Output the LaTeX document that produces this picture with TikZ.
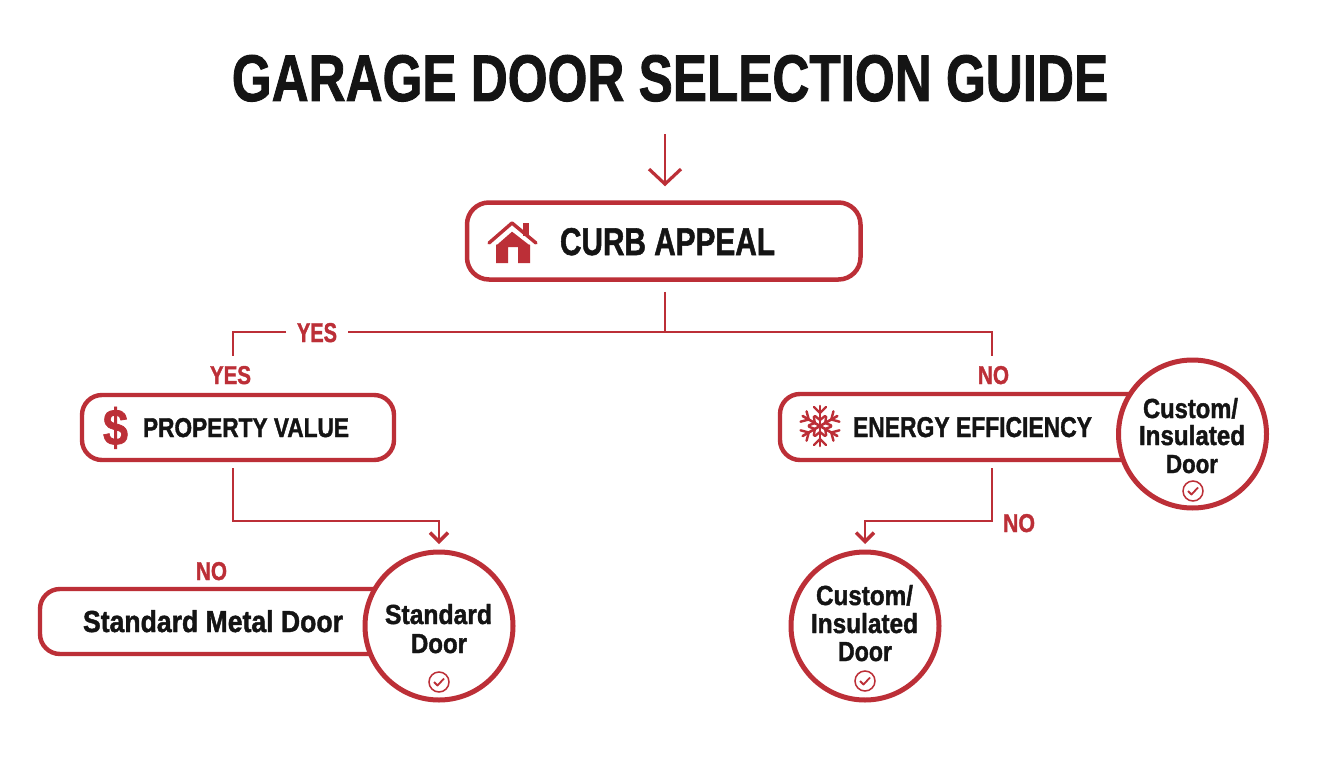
\documentclass[tikz,border=0pt]{standalone}
\usepackage{graphicx}
\usepackage{fontspec}
\setmainfont[BoldFeatures={FakeBold=1.5}]{Liberation Sans}
\usetikzlibrary{arrows.meta}
\definecolor{brandred}{HTML}{BC2F37}
\definecolor{inkdark}{HTML}{141414}
\tikzset{
  pill/.style={draw=brandred,line width=4.4pt,fill=white,rounded corners=20pt,inner sep=0pt},
  disc/.style={circle,draw=brandred,line width=5pt,fill=white,minimum size=148pt,inner sep=0pt},
  wire/.style={draw=brandred,line width=2.8pt,line cap=butt},
  barb/.style={-{Straight Barb[length=9pt,width=18pt,line width=3.4pt]}},
  bigbarb/.style={-{Straight Barb[length=15pt,width=32pt,line width=3.2pt]}},
  lab/.style={anchor=base,inner sep=0pt,font=\bfseries},
  ink/.style={lab,text=inkdark},
  redlab/.style={lab,text=brandred},
  tick/.style={draw=brandred,line width=1.5pt}
}
\newcommand{\fitbox}[3]{\resizebox{#1pt}{#2pt}{#3}}
\newcommand{\checkmarkicon}[2]{%
  \draw[tick] (#1,#2) circle (10);
  \draw[tick,line width=1.8pt,line join=round] (#1-5,#2) -- (#1-1.5,#2+3.5) -- (#1+5,#2-3.5);
}
\begin{document}
\begin{tikzpicture}[x=1pt,y=-1pt]
\useasboundingbox[fill=white] (0,0) rectangle (1344,768);
% title
\node[ink] (title) at (670,101) {\fitbox{876}{46}{GARAGE DOOR SELECTION GUIDE}};
% boxes
\node[pill,rounded corners=22pt,line width=4.5pt,minimum width=393.5pt,minimum height=77pt] (curb) at (663.75,241) {};
\node[pill,minimum width=312pt,minimum height=65pt] (prop) at (238,427.5) {};
\node[pill,minimum width=390pt,minimum height=65pt] (metal) at (235,621.5) {};
\node[pill,minimum width=410pt,minimum height=66pt] (energy) at (985,427) {};
% circles
\node[disc] (stdcirc) at (439,626) {};
\node[disc] (custright) at (1192.5,434) {};
\node[disc] (custbot) at (865,626) {};
% box text
\node[ink] (curbt) at (667.5,255) {\fitbox{215}{27}{CURB APPEAL}};
\node[ink] (propt) at (246,437) {\fitbox{206}{19}{PROPERTY VALUE}};
\node[ink] (metalt) at (213,632) {\fitbox{260}{22}{Standard Metal Door}};
\node[ink] (energyt) at (972.5,437) {\fitbox{239}{20}{ENERGY EFFICIENCY}};
\node[ink] (s1) at (438.5,624) {\fitbox{107}{20}{Standard}};
\node[ink] (s2) at (439,653) {\fitbox{56}{19}{Door}};
\node[ink] (c1) at (1190.5,418) {\fitbox{95}{20}{Custom/}};
\node[ink] (c2) at (1192,445) {\fitbox{106}{20}{Insulated}};
\node[ink] (c3) at (1192,473) {\fitbox{52}{18}{Door}};
\node[ink] (b1) at (864.5,605) {\fitbox{97}{20}{Custom/}};
\node[ink] (b2) at (864.5,633) {\fitbox{107}{20}{Insulated}};
\node[ink] (b3) at (865,661) {\fitbox{54}{19}{Door}};
% labels
\node[redlab] (yes1) at (317,342) {\fitbox{40}{19}{YES}};
\node[redlab] (yes2) at (230.5,384) {\fitbox{41}{18}{YES}};
\node[redlab] (no1) at (993.5,384) {\fitbox{31}{18}{NO}};
\node[redlab] (no2) at (1019,532) {\fitbox{32}{18}{NO}};
\node[redlab] (no3) at (211.5,580) {\fitbox{31}{18}{NO}};
\node[redlab] (dollar) at (115.5,445) {\fitbox{25}{38}{\$}};
% connectors
\coordinate (start) at (665,134);
\coordinate (junction) at (665,332);
\coordinate (gapright) at (348,332);
\coordinate (gapleft) at (286,332);
\coordinate (leftcorner) at (233,332);
\coordinate (leftend) at (233,356);
\coordinate (rightcorner) at (992,332);
\coordinate (rightend) at (992,356);
\coordinate (propdown) at (233,521);
\coordinate (stdin) at (439,521);
\coordinate (stdtip) at (439,544);
\coordinate (endown) at (992,521);
\coordinate (custin) at (865,521);
\coordinate (custtip) at (865,544);
\draw[wire,bigbarb,shorten >=14pt] (start) -- (curb.north -| start);
\draw[wire,shorten <=10pt] (curb.south -| junction) -- (junction);
\draw[wire] (junction) -- (gapright);
\draw[wire,line join=miter] (gapleft) -- (leftcorner) -- (leftend);
\draw[wire,line join=miter] (junction) -- (rightcorner) -- (rightend);
\draw[wire,barb,line join=miter,shorten <=6pt] (prop.south -| propdown) -- (propdown) -- (stdin) -- (stdtip);
\draw[wire,barb,line join=miter,shorten <=6pt] (energy.south -| endown) -- (endown) -- (custin) -- (custtip);
% check marks
\checkmarkicon{439}{682}
\checkmarkicon{1193}{491}
\checkmarkicon{865}{681}
% house icon
\fill[brandred] (496,245) -- (512,231) -- (530,245) -- (530,263) -- (518,263) -- (518,247) -- (508,247) -- (508,263) -- (496,263) -- cycle;
\fill[brandred] (523,223) rectangle (529,236);
\draw[white,line width=3pt] (496,243.5) -- (512,229.5) -- (530,243.5);
\draw[brandred,line width=3.4pt,line cap=round,line join=round] (489,243) -- (512,223) -- (536,243);
% snowflake icon
\begin{scope}[shift={(820,426)}]
\foreach \a in {0,60,120,180,240,300}{
  \begin{scope}[rotate=\a]
  \draw[brandred,line width=2.6pt,line cap=round] (0,0) -- (0,-20);
  \draw[brandred,line width=2.4pt,line cap=round] (-6,-19) -- (0,-13) -- (6,-19);
  \draw[brandred,line width=2.4pt,line cap=round] (-5,-10) -- (0,-6) -- (5,-10);
  \end{scope}
}
\end{scope}
\end{tikzpicture}
\end{document}
